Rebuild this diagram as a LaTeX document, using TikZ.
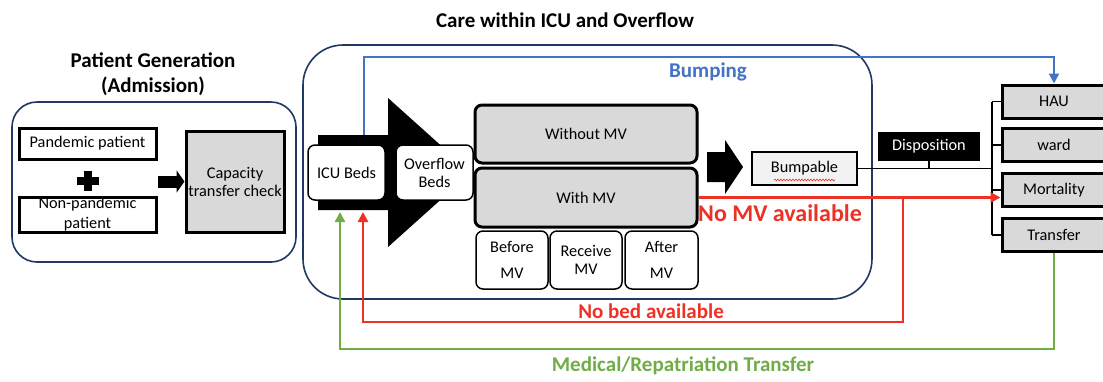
\documentclass[tikz,border=0pt]{standalone}
\usepackage{fontspec}
\setmainfont{Carlito}
\usepackage{tikz}
\usetikzlibrary{arrows.meta,decorations.pathmorphing}
\definecolor{framenavy}{RGB}{32,56,100}
\definecolor{bumpblue}{RGB}{68,114,196}
\definecolor{alertred}{RGB}{236,50,36}
\definecolor{transgreen}{RGB}{112,173,71}
\definecolor{boxgray}{RGB}{217,217,217}
\definecolor{paleGray}{RGB}{242,242,242}
\newcommand{\txt}{\fontsize{16.3}{18}\selectfont}
\newcommand{\hdr}{\fontsize{21}{25}\selectfont\bfseries}
\tikzset{
  frame/.style     = {draw=framenavy,line width=1.6pt,rounded corners=#1},
  heavybox/.style  = {draw,line width=3pt,fill=white,inner sep=0pt,align=center,font=\txt},
  graybox/.style   = {heavybox,fill=boxgray},
  softbox/.style   = {draw,line width=1.5pt,fill=white,rounded corners=7pt,inner sep=0pt,align=center,font=\txt},
  mvbox/.style     = {draw,line width=3pt,fill=boxgray,rounded corners=7pt,inner sep=0pt,font=\txt},
  outbox/.style    = {graybox,minimum width=104pt,minimum height=33pt},
  title/.style     = {font=\hdr,align=center},
  flowlbl/.style   = {font=\hdr},
  blockarr/.style  = {-{Triangle[length=8pt,width=22pt]},line width=12pt},
  bluearr/.style   = {-{Triangle[length=10pt,width=10pt]},line width=2.6pt,bumpblue},
  redarr/.style    = {-{Triangle[length=10pt,width=10pt]},line width=2.8pt,alertred},
  greenarr/.style  = {-{Triangle[length=10pt,width=10pt]},line width=2.8pt,transgreen},
  tree/.style      = {line width=1.6pt}
}

\begin{document}
\begin{tikzpicture}[x=1pt,y=-1pt]
  \useasboundingbox[fill=white] (0,0) rectangle (1103,381);

  % titles
  \node[title] (gentitle) at (153,74) {Patient Generation\\(Admission)};
  \node[title] (icutitle) at (565,20) {Care within ICU and Overflow};

  % frames
  \draw[frame=25pt] (12,102) rectangle (296,262);
  \draw[frame=40pt] (303,45) rectangle (872,299);

  % admission
  \node[heavybox,minimum width=137pt,minimum height=31pt] (pand) at (87.5,143.5) {Pandemic patient};
  \node[heavybox,minimum width=137pt,minimum height=35pt,font=\fontsize{16.3}{20}\selectfont] (nonpand) at (87.5,214.5) {Non-pandemic\\patient};
  \coordinate (plus) at (88,181);
  \fill (plus) +(-11,-4) rectangle +(11,4);
  \fill (plus) +(-4,-10) rectangle +(4,10);
  \node[graybox,minimum width=98pt,minimum height=101pt] (cap) at (235,181.5) {Capacity\\transfer check};
  \draw[blockarr] (pand.east |- cap.west) -- (cap.west);

  % ICU and overflow
  \fill (318,135) -- (388,135) -- (388,98) -- (471,172.5) -- (388,247) -- (388,210) -- (318,210) -- cycle;
  \node[softbox,minimum width=77pt,minimum height=55pt] (icu) at (346.5,172.5) {ICU Beds};
  \node[softbox,minimum width=77pt,minimum height=55pt] (ovf) at (434.5,172.5) {Overflow\\Beds};
  \node[mvbox,minimum width=222pt,minimum height=58pt] (nomv) at (586,134) {Without MV};
  \node[mvbox,minimum width=222pt,minimum height=59pt] (wmv) at (586,197.5) {With MV};
  \node[softbox,minimum width=72pt,minimum height=58pt,font=\fontsize{16.3}{26}\selectfont] (bmv) at (512,260) {Before\\MV};
  \node[softbox,minimum width=72pt,minimum height=58pt,font=\fontsize{16.3}{18}\selectfont] (rmv) at (586,260) {Receive\\MV};
  \node[softbox,minimum width=73pt,minimum height=58pt,font=\fontsize{16.3}{26}\selectfont] (amv) at (661.5,260) {After\\MV};
  \fill (707,152) -- (725,152) -- (725,140) -- (743,167) -- (725,194) -- (725,182) -- (707,182) -- cycle;
  \node[graybox,fill=paleGray,line width=2.5pt,minimum width=105pt,minimum height=33pt] (bump) at (804.5,168.5) {Bumpable};
  \draw[alertred,line width=0.6pt,decorate,decoration={snake,amplitude=0.9pt,segment length=3pt}] (774,180) -- (835,180);

  % disposition
  \node[fill=black,text=white,font=\txt,minimum width=102pt,minimum height=29pt,inner sep=0pt] (disp) at (929,146.5) {Disposition};
  \node[outbox] (hau)  at (1054,101.5) {HAU};
  \node[outbox] (ward) at (1054,145) {ward};
  \node[outbox] (mort) at (1054,190) {Mortality};
  \node[outbox] (tr)   at (1054,235) {Transfer};
  \coordinate (brk) at (992,169);
  \draw[tree] (bump.east) -- (bump.east -| brk);
  \draw[tree] (disp.south) -- (disp.south |- brk);
  \draw[tree] (hau.west -| brk) -- (tr.west -| brk);
  \foreach \b in {hau,ward,mort,tr}
    \draw[tree] (\b.west) -- (\b.west -| brk);

  % flows
  \coordinate (bumpfrom) at (364,135);
  \coordinate (bumptop)  at (364,57);
  \draw[bluearr] (bumpfrom) -- (bumptop) -| (hau.north);
  \node[flowlbl,text=bumpblue] (bumplbl) at (708,72) {Bumping};

  \coordinate (redbot) at (903,322);
  \coordinate (redin)  at (363,212);
  \draw[redarr] (wmv.east) -- (wmv.east -| mort.west);
  \draw[redarr] (wmv.east -| redbot) -- (redbot) -| (redin);
  \node[flowlbl,text=alertred,font=\fontsize{24}{28}\selectfont\bfseries] (mvlbl) at (780,213) {No MV available};
  \node[flowlbl,text=alertred] (bedlbl) at (651,311) {No bed available};

  \coordinate (greenbot) at (340,349);
  \coordinate (greenin)  at (340,212);
  \draw[greenarr] (tr.south) -- (tr.south |- greenbot) -| (greenin);
  \node[flowlbl,text=transgreen] (translbl) at (683,366) {Medical/Repatriation Transfer};
\end{tikzpicture}
\end{document}
